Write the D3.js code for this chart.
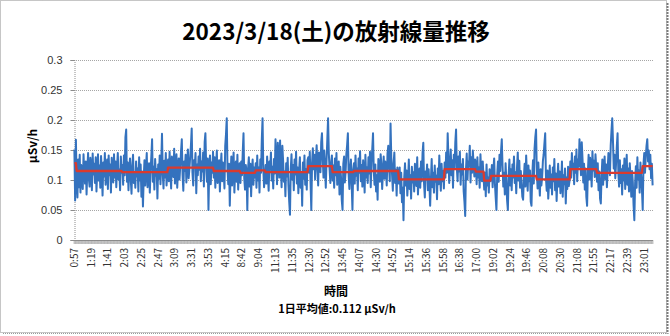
<!DOCTYPE html>
<html>
<head>
<meta charset="utf-8">
<script src="https://cdn.jsdelivr.net/npm/d3@7/dist/d3.min.js"></script>
<style>
  html, body { margin: 0; padding: 0; background: #fff; }
  svg { display: block; }
</style>
</head>
<body>
<svg id="chart" width="670" height="336"></svg>
<script>
// Chart title and annotation texts
const chartTitle = "2023/3/18(土)の放射線量推移";
const yAxisTitle = "μSv/h";
const xAxisTitle = "時間";
const dailyAverageText = "1日平均値:0.112 μSv/h";

// Y axis tick values (μSv/h)
const yTicks = [0, 0.05, 0.1, 0.15, 0.2, 0.25, 0.3];

// Category labels, one every 22 measurements
const labelStep = 22;
const timeLabels = [
  "0:57","1:19","1:41","2:03","2:25","2:47","3:09","3:31","3:53","4:15",
  "8:42","9:04","11:13","11:35","12:30","12:52","13:45","14:07","14:30","14:52",
  "15:14","15:36","15:58","16:38","17:00","19:02","19:24","19:46","20:08","20:30",
  "21:08","21:55","22:17","22:39","23:01"
];

// Per-minute dose rate readings (μSv/h)
const doseRate = [
  // 0:57-0:59
  0.151,0.066,0.167,
  // 1:00-1:59
  0.098,0.071,0.134,0.088,0.142,0.079,0.125,0.103,0.085,0.143,
  0.112,0.094,0.131,0.076,0.118,0.145,0.102,0.089,0.137,0.121,
  0.083,0.144,0.109,0.127,0.095,0.138,0.081,0.116,0.143,0.099,
  0.124,0.087,0.140,0.113,0.074,0.129,0.106,0.145,0.092,0.119,
  0.134,0.085,0.141,0.108,0.126,0.079,0.137,0.115,0.096,0.143,
  0.104,0.131,0.088,0.122,0.145,0.101,0.117,0.083,0.139,0.112,
  // 2:00-2:59
  0.125,0.092,0.141,0.108,0.171,0.184,0.097,0.129,0.083,0.118,
  0.136,0.101,0.077,0.124,0.142,0.095,0.113,0.087,0.131,0.106,
  0.119,0.081,0.138,0.099,0.126,0.072,0.114,0.056,0.103,0.133,
  0.091,0.121,0.145,0.088,0.110,0.128,0.079,0.116,0.139,0.168,
  0.097,0.122,0.084,0.135,0.107,0.118,0.069,0.126,0.102,0.141,
  0.093,0.128,0.177,0.111,0.086,0.132,0.104,0.145,0.091,0.115,
  // 3:00-3:59
  0.134,0.098,0.147,0.112,0.086,0.139,0.121,0.105,0.152,0.094,
  0.128,0.143,0.087,0.117,0.136,0.101,0.124,0.148,0.168,0.109,
  0.082,0.131,0.115,0.142,0.096,0.127,0.151,0.103,0.119,0.138,
  0.158,0.186,0.112,0.091,0.133,0.121,0.145,0.078,0.126,0.108,
  0.139,0.117,0.152,0.098,0.131,0.114,0.146,0.089,0.163,0.178,
  0.122,0.097,0.136,0.050,0.118,0.141,0.093,0.129,0.112,0.147,
  // 4:00-4:34
  0.104,0.138,0.087,0.126,0.149,0.095,0.117,0.133,0.081,0.121,
  0.144,0.098,0.129,0.112,0.086,0.157,0.176,0.203,0.118,0.093,
  0.127,0.057,0.108,0.139,0.091,0.124,0.146,0.079,0.113,0.131,
  0.097,0.142,0.084,0.119,0.128,
  // 8:40-8:59
  0.095,0.131,0.108,0.147,0.178,0.102,0.084,0.125,0.113,0.050,
  0.119,0.138,0.089,0.127,0.073,0.116,0.134,0.092,0.121,0.104,
  // 9:00-9:12
  0.128,0.087,0.141,0.099,0.121,0.079,0.134,0.112,0.167,0.203,
  0.118,0.088,0.107,
  // 11:xx
  0.125,0.094,0.139,0.108,0.082,0.131,0.117,0.146,0.099,0.122,
  0.086,0.135,0.111,0.168,0.127,0.093,0.162,0.141,0.104,0.166,
  0.119,0.088,0.157,0.132,0.097,0.114,0.073,0.128,0.106,0.137,
  0.091,0.064,0.042,0.118,0.143,0.101,0.125,0.083,0.134,0.109,
  0.147,0.094,0.121,0.078,0.116,0.138,0.087,0.112,0.057,0.129,
  0.102,0.141,0.092,0.118,0.084,0.133,
  // 12:xx
  0.138,0.112,0.147,0.096,0.050,0.129,0.153,0.118,0.142,0.101,
  0.134,0.158,0.122,0.091,0.146,0.127,0.113,0.163,0.178,0.136,
  0.104,0.149,0.121,0.087,0.132,0.168,0.203,0.144,0.117,0.095,
  0.128,0.141,
  // 13:xx
  0.099,0.124,0.087,0.136,0.108,0.145,0.092,0.118,0.131,0.076,
  0.122,0.104,0.066,0.050,0.127,0.139,0.096,0.113,0.143,0.158,
  0.178,0.109,0.085,0.121,0.134,0.091,0.050,0.117,
  // 14:xx
  0.128,0.094,0.141,0.107,0.119,0.083,0.136,0.112,0.148,0.098,
  0.125,0.089,0.133,0.116,0.079,0.142,0.104,0.121,0.095,0.138,
  0.111,0.147,0.088,0.129,0.152,0.178,0.114,0.092,0.126,0.081,
  0.108,0.067,0.135,0.119,0.097,0.143,0.126,0.085,0.113,0.139,
  0.102,0.131,0.118,0.091,0.144,0.157,0.123,0.098,0.194,0.137,
  0.109,0.082,0.128,0.146,0.095,0.117,0.074,0.121,0.106,
  // 15:xx
  0.094,0.121,0.078,0.112,0.063,0.087,0.033,0.105,0.128,0.091,
  0.116,0.074,0.099,0.134,0.085,0.108,0.069,0.122,0.096,0.113,
  0.081,0.127,0.102,0.090,0.138,0.076,0.109,0.119,0.087,0.131,
  0.098,0.145,0.162,0.093,0.071,0.114,0.104,0.126,0.083,0.118,
  0.092,0.057,0.101,0.135,0.088,0.112,0.079,0.124,0.097,0.107,
  0.068,0.119,0.093,0.141,0.105,0.082,0.127,0.098,0.115,0.086,
  // 16:xx
  0.129,0.104,0.146,0.112,0.178,0.137,0.095,0.124,0.151,0.108,
  0.133,0.087,0.142,0.119,0.163,0.184,0.121,0.098,0.139,0.114,
  0.147,0.092,0.126,0.109,0.135,0.081,0.064,0.040,0.118,0.144,
  0.101,0.131,0.123,0.157,0.096,0.138,0.112,0.149,0.127,0.106,
  0.134,
  // 17:xx
  0.126,0.093,0.138,0.104,0.121,0.087,0.143,0.112,0.098,0.131,
  0.107,
  // 18:xx
  0.084,0.112,0.073,0.126,0.091,0.104,0.079,0.118,0.098,
  // 19:xx
  0.102,0.125,0.088,0.117,0.136,0.094,0.071,0.050,0.109,0.131,
  0.097,0.142,0.115,0.148,0.168,0.123,0.089,0.112,0.076,0.128,
  0.099,0.066,0.050,0.107,0.134,0.091,0.118,0.083,0.126,0.104,
  0.139,0.095,0.113,0.078,0.121,0.146,0.099,0.132,0.087,0.115,
  0.093,0.072,0.067,0.104,0.127,0.089,0.141,0.111,0.082,0.124,
  0.098,0.116,0.064,0.057,0.108,0.133,0.094,0.152,0.171,0.184,
  // 20:xx
  0.112,0.086,0.129,0.097,0.074,0.118,0.091,0.105,0.132,0.143,
  0.161,0.178,0.103,0.082,0.116,0.069,0.094,0.124,0.087,0.109,
  0.076,0.121,0.098,0.135,0.083,0.111,0.065,0.102,0.127,0.089,
  0.114,0.078,0.096,0.131,0.072,0.108,0.093,0.119,0.061,0.104,
  0.085,0.122,0.090,0.099,
  // 21:xx
  0.131,0.104,0.145,0.118,0.127,0.093,0.139,0.112,0.151,0.098,
  0.134,0.122,0.168,0.141,0.108,0.163,0.135,0.096,0.127,0.084,
  0.119,0.072,0.057,0.113,0.142,0.101,0.137,0.124,0.089,0.148,
  0.116,0.132,0.105,0.143,0.121,
  // 22:xx
  0.097,0.128,0.083,0.114,0.069,0.061,0.107,0.134,0.092,0.121,
  0.139,0.101,0.126,0.088,0.117,0.145,0.131,0.108,0.158,0.182,
  0.203,0.164,0.119,0.142,0.103,0.127,0.156,0.178,0.112,0.089,
  0.133,0.095,0.118,0.076,0.124,0.099,0.136,0.085,0.111,0.142,
  0.092,0.119,0.081,0.128,0.104,0.072,0.115,0.097,0.058,0.033,
  0.094,0.123,0.087,0.138,0.101,0.116,0.079,0.129,0.106,0.084,
  // 23:xx
  0.050,0.126,0.145,0.112,0.138,0.157,0.168,0.131,0.149,0.118,
  0.142,0.103,0.127,0.091
];

// Hourly mean levels (μSv/h) and the number of readings each one covers
const hourlyMean = [0.128, 0.115, 0.113, 0.1205, 0.115, 0.112, 0.116, 0.113, 0.123, 0.113,
                    0.115, 0.101, 0.118, 0.114, 0.099, 0.107, 0.101, 0.118, 0.112, 0.123];
const hourlyCount = [3, 60, 60, 60, 35, 20, 13, 56, 32, 28,
                     59, 60, 41, 11, 9, 60, 44, 35, 60, 14];

// Expand the hourly means so that every reading has its hour's mean
const meanSeries = hourlyMean.flatMap((v, k) => Array(hourlyCount[k]).fill(v));

const svg = d3.select("#chart");
const W = 670, H = 336;
const plot = { left: 74, right: 653, top: 60, bottom: 240 };

// Chart frame
svg.append("rect")
  .attr("x", 0.5).attr("y", 0.5)
  .attr("width", W - 4).attr("height", H - 4)
  .attr("fill", "#fff")
  .attr("stroke", "#8c8c8c")
  .attr("stroke-dasharray", "1,1");
svg.append("line")
  .attr("x1", W - 2.5).attr("x2", W - 2.5)
  .attr("y1", 3).attr("y2", H - 2)
  .attr("stroke", "#7a7a7a").attr("stroke-width", 2)
  .attr("stroke-dasharray", "2,1");
svg.append("line")
  .attr("x1", 3).attr("x2", W - 2)
  .attr("y1", H - 2.5).attr("y2", H - 2.5)
  .attr("stroke", "#9a9a9a").attr("stroke-width", 1)
  .attr("stroke-dasharray", "1,1");

const n = doseRate.length;
const x = d3.scaleLinear().domain([-0.5, n - 0.5]).range([plot.left, plot.right]);
const y = d3.scaleLinear().domain([0, 0.3]).range([plot.bottom, plot.top]);

// Horizontal gridlines
svg.append("g")
  .selectAll("line")
  .data(yTicks.filter(t => t > 0))
  .join("line")
  .attr("x1", plot.left).attr("x2", plot.right)
  .attr("y1", d => Math.round(y(d)) + 0.5).attr("y2", d => Math.round(y(d)) + 0.5)
  .attr("stroke", "#a6a6a6")
  .attr("stroke-dasharray", "1,1");

// Y axis
const yAxis = d3.axisLeft(y)
  .tickValues(yTicks)
  .tickSize(4)
  .tickPadding(8)
  .tickFormat(d => String(+d.toFixed(2)));
const yg = svg.append("g")
  .attr("transform", `translate(${plot.left + 0.5},0)`)
  .call(yAxis);
yg.select(".domain").attr("stroke", "#8c8c8c").attr("stroke-dasharray", "1,1");
yg.selectAll(".tick line").attr("stroke", "#8c8c8c");
yg.selectAll(".tick text")
  .attr("font-family", "'Liberation Sans', Arial, sans-serif")
  .attr("font-size", 11)
  .attr("fill", "#333");

// X axis: a tick at every reading, labels every 22 readings
const xg = svg.append("g").attr("transform", `translate(0,${plot.bottom})`);
xg.append("line")
  .attr("x1", plot.left).attr("x2", plot.right)
  .attr("y1", 0.5).attr("y2", 0.5)
  .attr("stroke", "#8c8c8c");
xg.append("g")
  .selectAll("line")
  .data(d3.range(n + 1))
  .join("line")
  .attr("x1", i => x(i - 0.5)).attr("x2", i => x(i - 0.5))
  .attr("y1", 0).attr("y2", 4)
  .attr("stroke", "#8c8c8c")
  .attr("stroke-width", 0.5);
xg.append("g")
  .selectAll("text")
  .data(timeLabels)
  .join("text")
  .attr("transform", (d, i) => `translate(${x(i * labelStep) + 3.5},8) rotate(-90)`)
  .attr("text-anchor", "end")
  .attr("font-family", "'Noto Sans CJK JP', sans-serif")
  .attr("font-size", 10)
  .attr("fill", "#333")
  .text(d => d);

// Dose rate series
svg.append("path")
  .datum(doseRate)
  .attr("fill", "none")
  .attr("stroke", "#3472be")
  .attr("stroke-width", 2)
  .attr("stroke-linejoin", "round")
  .attr("d", d3.line().x((d, i) => x(i)).y(d => y(d)));

// Hourly mean series
svg.append("path")
  .datum(meanSeries)
  .attr("fill", "none")
  .attr("stroke", "#d93a2e")
  .attr("stroke-width", 2.3)
  .attr("stroke-linejoin", "round")
  .attr("d", d3.line().x((d, i) => x(i)).y(d => y(d)));

// Titles
svg.append("text")
  .attr("x", 336).attr("y", 40)
  .attr("text-anchor", "middle")
  .attr("font-family", "'Noto Sans CJK JP', sans-serif")
  .attr("font-weight", "bold")
  .attr("font-size", 22.5)
  .attr("fill", "#000")
  .text(chartTitle);

svg.append("text")
  .attr("transform", "translate(37,146) rotate(-90)")
  .attr("text-anchor", "middle")
  .attr("font-family", "'Noto Sans CJK JP', sans-serif")
  .attr("font-weight", "bold")
  .attr("font-size", 12)
  .attr("fill", "#000")
  .text(yAxisTitle);

svg.append("text")
  .attr("x", 336).attr("y", 296)
  .attr("text-anchor", "middle")
  .attr("font-family", "'Noto Sans CJK JP', sans-serif")
  .attr("font-weight", "bold")
  .attr("font-size", 12)
  .attr("fill", "#000")
  .text(xAxisTitle);

svg.append("text")
  .attr("x", 337).attr("y", 313)
  .attr("text-anchor", "middle")
  .attr("font-family", "'Noto Sans CJK JP', sans-serif")
  .attr("font-weight", "bold")
  .attr("font-size", 11)
  .attr("fill", "#000")
  .text(dailyAverageText);
</script>
</body>
</html>
